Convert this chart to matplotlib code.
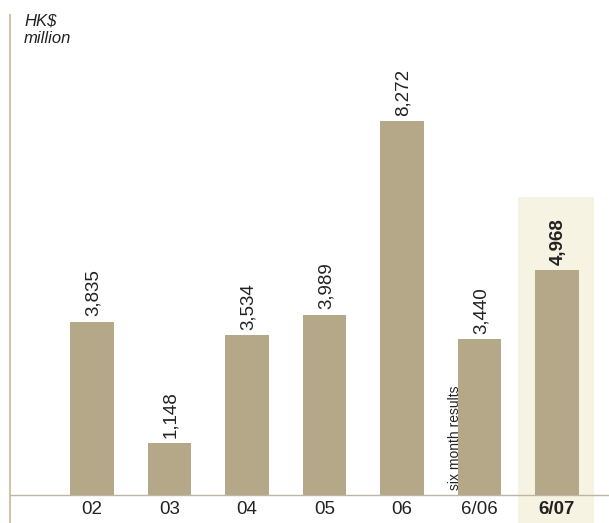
import matplotlib.pyplot as plt
from matplotlib.patches import Rectangle

plt.rcParams['font.family'] = ['Liberation Sans', 'DejaVu Sans']

periods = ['02', '03', '04', '05', '06', '6/06', '6/07']
profit = [3835, 1148, 3534, 3989, 8272, 3440, 4968]

bar_col = '#b5a888'
hl_col = '#f7f3e3'
line_col = '#cfc5ab'

fig = plt.figure(figsize=(6.09, 5.23), dpi=100)
ax = fig.add_axes([10 / 609, 28 / 523, 599 / 609, 480 / 523])

x = list(range(len(periods)))
ymax = 10617
ax.set_xlim(-1.058, 6.671)
ax.set_ylim(0, ymax)

# shaded band behind the latest half-year, running down past the axis
ax.add_patch(Rectangle((5.5, -650), 0.98, 6592 + 650, facecolor=hl_col,
                       edgecolor='none', clip_on=False, zorder=0))

ax.bar(x, profit, width=0.555, color=bar_col, zorder=2)

for i, v in enumerate(profit):
    last = i == len(profit) - 1
    ax.text(i + 0.02, v + 120, f'{v:,}', rotation=90, ha='center', va='bottom',
            fontsize=13.5, fontweight='bold' if last else 'normal', color='#222222')

ax.text(4.68, 110, 'six month results', rotation=90, ha='center', va='bottom',
        fontsize=10, color='#222222')

for s in ['top', 'right']:
    ax.spines[s].set_visible(False)
ax.spines['left'].set_color(line_col)
ax.spines['left'].set_linewidth(1.5)
ax.spines['left'].set_bounds(-700, ymax)
ax.spines['bottom'].set_color('#bdb6a4')
ax.spines['bottom'].set_linewidth(1)
ax.set_yticks([])
ax.set_xticks(x)
ax.set_xticklabels(periods, fontsize=13.5, color='#222222')
ax.get_xticklabels()[-1].set_fontweight('bold')
ax.tick_params(axis='x', length=0, pad=4)

fig.text(24 / 609, 1 - 30 / 523, 'HK$\nmillion', fontsize=12, style='italic',
         ha='left', va='center', color='#222222', linespacing=1.2)

fig.savefig('out.png', dpi=100)
